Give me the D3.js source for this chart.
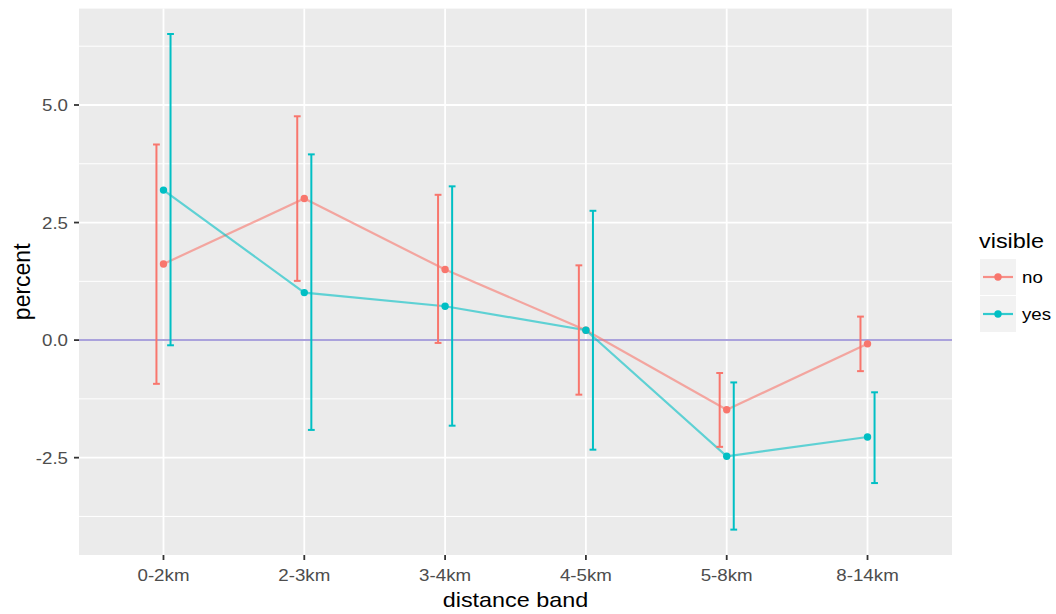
<!DOCTYPE html>
<html>
<head>
<meta charset="utf-8">
<script src="https://cdn.jsdelivr.net/npm/d3@7"></script>
<style>
  body { margin: 0; background: #fff; }
  text { font-family: "Liberation Sans", Arial, sans-serif; }
</style>
</head>
<body>
<svg id="chart" width="1056" height="614"></svg>
<script>
// values
const bands = ["0-2km", "2-3km", "3-4km", "4-5km", "5-8km", "8-14km"];
const groups = ["no", "yes"];
const noMean = [1.62, 3.01, 1.50, 0.21, -1.48, -0.08];
const noLow  = [-0.93, 1.26, -0.06, -1.16, -2.27, -0.66];
const noHigh = [4.16, 4.76, 3.09, 1.59, -0.70, 0.50];
const yesMean = [3.19, 1.01, 0.72, 0.21, -2.47, -2.06];
const yesLow  = [-0.11, -1.91, -1.82, -2.33, -4.03, -3.04];
const yesHigh = [6.51, 3.95, 3.27, 2.75, -0.90, -1.11];
const yTicks = [-2.5, 0, 2.5, 5];
const yMinor = [-3.75, -1.25, 1.25, 3.75, 6.25];

const colors = { no: "#F8766D", yes: "#00BFC4" };
const series = [
  { key: "no", mean: noMean, low: noLow, high: noHigh, dodge: -0.05 },
  { key: "yes", mean: yesMean, low: yesLow, high: yesHigh, dodge: 0.05 }
];

const svg = d3.select("#chart");
const panel = { left: 79, right: 952, top: 8.6, bottom: 555 };
const stretch = 1.17; // text in the picture is a bit wide

const x = d3.scalePoint().domain(bands).range([panel.left, panel.right]).padding(0.6);
const step = x.step();
const y = d3.scaleLinear().domain([-4.57, 7.05]).range([panel.bottom, panel.top]);

function label(g, tx, ty, str, size, anchor, color) {
  return g.append("text")
    .attr("transform", `translate(${tx},${ty}) scale(${stretch},1)`)
    .attr("text-anchor", anchor)
    .attr("font-size", size)
    .attr("fill", color)
    .text(str);
}

// panel
svg.append("rect")
  .attr("x", panel.left).attr("y", panel.top)
  .attr("width", panel.right - panel.left).attr("height", panel.bottom - panel.top)
  .attr("fill", "#EBEBEB");

const grid = svg.append("g");
grid.selectAll(".minor").data(yMinor).enter().append("line")
  .attr("x1", panel.left).attr("x2", panel.right)
  .attr("y1", d => y(d)).attr("y2", d => y(d))
  .attr("stroke", "#fff").attr("stroke-width", 1);
grid.selectAll(".majorY").data(yTicks).enter().append("line")
  .attr("x1", panel.left).attr("x2", panel.right)
  .attr("y1", d => y(d)).attr("y2", d => y(d))
  .attr("stroke", "#fff").attr("stroke-width", 1.8);
grid.selectAll(".majorX").data(bands).enter().append("line")
  .attr("x1", d => x(d)).attr("x2", d => x(d))
  .attr("y1", panel.top).attr("y2", panel.bottom)
  .attr("stroke", "#fff").attr("stroke-width", 1.8);

// zero line
svg.append("line")
  .attr("x1", panel.left).attr("x2", panel.right)
  .attr("y1", y(0)).attr("y2", y(0))
  .attr("stroke", "#aaa2dc").attr("stroke-width", 2);

// lines, points, error bars
const line = d3.line().x((d, i) => x(bands[i])).y(d => y(d));
series.forEach(s => {
  const g = svg.append("g");
  g.append("path").attr("d", line(s.mean))
    .attr("fill", "none").attr("stroke", colors[s.key])
    .attr("stroke-opacity", 0.6).attr("stroke-width", 2.2);
  g.selectAll("circle").data(s.mean).enter().append("circle")
    .attr("cx", (d, i) => x(bands[i])).attr("cy", d => y(d))
    .attr("r", 3.7).attr("fill", colors[s.key]);
});
series.forEach(s => {
  const g = svg.append("g")
    .attr("stroke", colors[s.key]).attr("stroke-width", 2).attr("fill", "none");
  bands.forEach((b, i) => {
    const cx = x(b) + s.dodge * step;
    const hw = 3.4;
    g.append("line").attr("x1", cx).attr("x2", cx).attr("y1", y(s.low[i])).attr("y2", y(s.high[i]));
    g.append("line").attr("x1", cx - hw).attr("x2", cx + hw).attr("y1", y(s.low[i])).attr("y2", y(s.low[i]));
    g.append("line").attr("x1", cx - hw).attr("x2", cx + hw).attr("y1", y(s.high[i])).attr("y2", y(s.high[i]));
  });
});

// axes
const ax = svg.append("g");
ax.selectAll(".yt").data(yTicks).enter().append("line")
  .attr("x1", panel.left - 5).attr("x2", panel.left)
  .attr("y1", d => y(d)).attr("y2", d => y(d))
  .attr("stroke", "#333").attr("stroke-width", 1.8);
yTicks.forEach(t => {
  label(ax, panel.left - 11, y(t) + 6, d3.format(".1f")(t).replace("\u2212", "-"), 16, "end", "#4D4D4D");
});
ax.selectAll(".xt").data(bands).enter().append("line")
  .attr("x1", d => x(d)).attr("x2", d => x(d))
  .attr("y1", panel.bottom).attr("y2", panel.bottom + 5)
  .attr("stroke", "#333").attr("stroke-width", 1.8);
bands.forEach(b => {
  label(ax, x(b), 581, b, 16, "middle", "#4D4D4D");
});

label(svg, (panel.left + panel.right) / 2, 607, "distance band", 20, "middle", "#000");
svg.append("text")
  .attr("transform", `translate(30,${(panel.top + panel.bottom) / 2}) rotate(-90)`)
  .attr("text-anchor", "middle").attr("font-size", 23).attr("fill", "#000")
  .text("percent");

// legend
const leg = svg.append("g");
label(leg, 979, 248, "visible", 20, "start", "#000");
groups.forEach((k, i) => {
  const top = 259 + i * 37;
  leg.append("rect").attr("x", 980).attr("y", top).attr("width", 36).attr("height", 36).attr("fill", "#F2F2F2");
  leg.append("line").attr("x1", 983).attr("x2", 1013).attr("y1", top + 18).attr("y2", top + 18)
    .attr("stroke", colors[k]).attr("stroke-width", 2.2).attr("stroke-opacity", 0.8);
  leg.append("circle").attr("cx", 998).attr("cy", top + 18).attr("r", 3.7).attr("fill", colors[k]);
  label(leg, 1022, top + 24, k, 16, "start", "#000");
});
</script>
</body>
</html>
